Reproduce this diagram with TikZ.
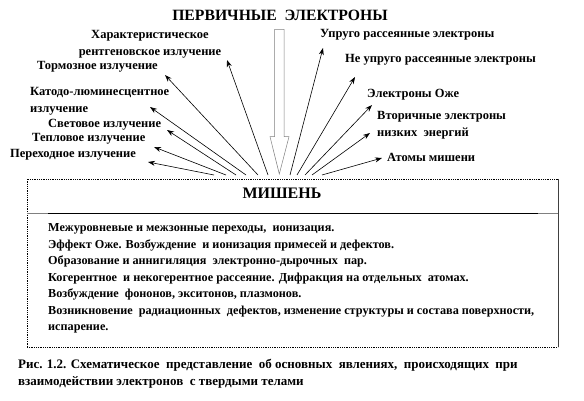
\documentclass[tikz,border=0pt]{standalone}
\usepackage{fontspec}
\setmainfont{Liberation Serif}
\usetikzlibrary{arrows.meta}
\begin{document}
\begin{tikzpicture}[x=1pt,y=-1pt,
  lbl/.style={inner sep=0pt,font=\bfseries\fontsize{12.5}{17}\selectfont},
  ray/.style={draw=black,line width=0.6pt,-{Stealth[length=7pt,width=5pt]}},
  boxtext/.style={inner sep=0pt,font=\bfseries\fontsize{12.2}{16.5}\selectfont,align=left}]
\useasboundingbox (0,0) rectangle (584,401);
% title
\node[inner sep=0pt,font=\bfseries\fontsize{15.7}{17}\selectfont] (title) at (280,15) {ПЕРВИЧНЫЕ\ \ ЭЛЕКТРОНЫ};
% big hollow arrow
\fill[white] (274.7,29.3) -- (284,29.3) -- (284,136.7) -- (289,136.7) -- (279.3,174) -- (270,136.7) -- (274.7,136.7) -- cycle;
\draw[gray,line width=0.5pt] (274.7,136.7) -- (274.7,29.3) -- (284,29.3) -- (284,136.7) -- (289,136.7) -- (279.3,174) -- (270,136.7) -- (274.7,136.7);
% left labels
\node[lbl,align=center] (a1) at (150,44) {Характеристическое\\рентгеновское излучение};
\node[lbl,anchor=west] (a2) at (37,67) {Тормозное излучение};
\node[lbl,anchor=west,align=left] (a3) at (30,101) {Катодо-люминесцентное\\излучение};
\node[lbl,anchor=west] (a4) at (48,125) {Световое излучение};
\node[lbl,anchor=west] (a5) at (32,139) {Тепловое излучение};
\node[lbl,anchor=west] (a6) at (10,155) {Переходное излучение};
% right labels
\node[lbl,anchor=west] (b1) at (320,35) {Упруго рассеянные электроны};
\node[lbl,anchor=west] (b2) at (345,60) {Не упруго рассеянные электроны};
\node[lbl,anchor=west] (b3) at (367,95) {Электроны Оже};
\node[lbl,anchor=west,align=left] (b4) at (377,125) {Вторичные электроны\\низких\ \ энергий};
\node[lbl,anchor=west] (b5) at (387,157) {Атомы мишени};
% ray coordinates
\coordinate (ta1) at (268,175); \coordinate (ha1) at (227,60);
\coordinate (ta2) at (258,175); \coordinate (ha2) at (165,75);
\coordinate (ta3) at (246,175); \coordinate (ha3) at (150,107);
\coordinate (ta4) at (236,175); \coordinate (ha4) at (167,130);
\coordinate (ta5) at (226,175); \coordinate (ha5) at (154,147);
\coordinate (ta6) at (214,175); \coordinate (ha6) at (148,162);
\coordinate (tb1) at (290,175); \coordinate (hb1) at (323,48);
\coordinate (tb2) at (297,175); \coordinate (hb2) at (355,77);
\coordinate (tb3) at (305,175); \coordinate (hb3) at (372,105);
\coordinate (tb4) at (312,175); \coordinate (hb4) at (370,133);
\coordinate (tb5) at (322,175); \coordinate (hb5) at (382,158);
\foreach \i in {a1,a2,a3,a4,a5,a6,b1,b2,b3,b4,b5} \draw[ray] (t\i) -- (h\i);
% target box
\coordinate (bnw) at (27,179); \coordinate (bne) at (558,179);
\coordinate (bsw) at (27,347); \coordinate (bse) at (558,347);
\coordinate (dl) at (27,213); \coordinate (dr) at (558,213);
\draw[densely dotted,line width=0.8pt] (bsw) -- (bnw) -- (bne);
\draw[densely dotted,line width=0.8pt] (bsw) -- (bse);
\draw[black!75,line width=0.9pt] (bne) -- (bse);
\draw[black,line width=0.8pt] (dl) -- (dr);
\draw[gray,line width=0.9pt] (dl) -- ++(21,0);
\draw[gray,line width=0.9pt] (dr) -- ++(-20,0);
\node[inner sep=0pt,font=\bfseries\fontsize{16}{18}\selectfont] (target) at (282,193) {МИШЕНЬ};
\node[boxtext,anchor=west] (body) at (48,278.5) {Межуровневые и межзонные переходы,\ \ ионизация.\\
Эффект Оже. Возбуждение\ \ и ионизация примесей и дефектов.\\
Образование и аннигиляция\ \ электронно-дырочных\ \ пар.\\
Когерентное\ \ и некогерентное рассеяние. Дифракция на отдельных\ \ атомах.\\
Возбуждение\ \ фононов, экситонов, плазмонов.\\
Возникновение\ \ радиационных\ \ дефектов, изменение структуры и состава поверхности,\\
испарение.};
% caption
\node[boxtext,anchor=west,font=\bfseries\fontsize{13}{17}\selectfont] (caption) at (18,373.5) {Рис. 1.2. Схематическое\ \ представление\ \ об основных\ \ явлениях,\ \ происходящих\ \ при\\
взаимодействии электронов\ \ с твердыми телами};
\end{tikzpicture}
\end{document}
